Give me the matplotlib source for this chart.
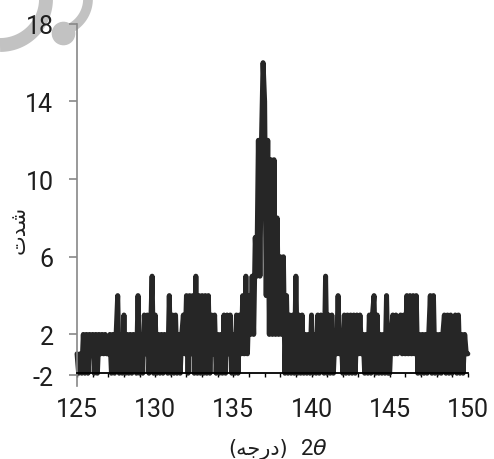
import numpy as np
import matplotlib
matplotlib.use('Agg')
import matplotlib.pyplot as plt

# scan: 2theta from 125 to 150 deg, step 0.1 deg
start_angle = 125.0
step_angle = 0.1
intensity = [
    1, 0, 1, 0, 2, 0, 2, 0, 2, 1,      # 125
    2, 0, 2, 0, 2, 1, 2, 1, 2, 1,      # 126
    1, 2, 0, 2, 0, 2, 4, 0, 2, 0,      # 127
    3, 0, 2, 0, 2, 0, 2, 1, 0, 4,      # 128
    0, 2, 0, 3, 1, 3, 0, 2, 5, 0,      # 129
    3, 0, 2, 0, 2, 0, 2, 1, 0, 4,      # 130
    0, 3, 0, 3, 0, 2, 0, 2, 3, 1,      # 131
    4, 0, 4, 1, 4, 0, 5, 0, 4, 0,      # 132
    4, 0, 4, 0, 4, 0, 3, 1, 3, 0,      # 133
    2, 0, 2, 0, 3, 0, 3, 1, 3, 0,      # 134
    2, 0, 3, 0, 3, 1, 4, 1, 5, 1,      # 135
    4, 2, 5, 2, 7, 5, 12, 5, 12, 16,   # 136
    14, 4, 12, 2, 11, 2, 11, 2, 8, 2,  # 137
    6, 2, 6, 0, 4, 0, 3, 0, 3, 0,      # 138
    5, 0, 3, 0, 3, 0, 2, 0, 2, 0,      # 139
    3, 0, 2, 0, 3, 0, 3, 2, 0, 5,      # 140
    0, 3, 0, 3, 0, 2, 1, 4, 1, 2,      # 141
    0, 3, 0, 3, 0, 3, 0, 3, 0, 3,      # 142
    1, 3, 1, 2, 0, 2, 0, 3, 0, 3,      # 143
    4, 0, 3, 0, 2, 0, 2, 0, 4, 0,      # 144
    0, 2, 3, 1, 3, 1, 2, 3, 1, 3,      # 145
    1, 4, 1, 4, 1, 4, 1, 4, 0, 2,      # 146
    0, 2, 0, 2, 0, 2, 4, 0, 4, 0,      # 147
    2, 0, 2, 0, 2, 3, 0, 3, 0, 3,      # 148
    0, 2, 3, 0, 3, 0, 2, 0, 2, 1,      # 149
    1,                                 # 150
]
two_theta = start_angle + step_angle * np.arange(len(intensity))

x_ticks = [125, 130, 135, 140, 145, 150]
y_tick_pos = [-0.1, 2, 6, 10, 14, 18]
y_tick_labels = ['-2', '2', '6', '10', '14', '18']

fig = plt.figure(figsize=(4.94, 4.6), dpi=100)

# faint watermark strokes in the top-left corner (pixel coords, y down)
bg = fig.add_axes([0, 0, 1, 1], zorder=-1)
bg.set_xlim(0, 494)
bg.set_ylim(460, 0)
bg.axis('off')
t = np.radians(np.linspace(0, 90, 40))
bg.plot(46 * np.cos(t), 46 * np.sin(t), color='#c2c2c2', lw=10,
        solid_capstyle='butt')
t = np.radians(np.linspace(0, 85, 40))
bg.plot(55 + 33 * np.cos(t), 33 * np.sin(t), color='#c2c2c2', lw=7,
        solid_capstyle='round')
bg.plot([63], [34], 'o', ms=16, color='#c2c2c2')

ax = fig.add_axes([0.156, 0.159, 0.791, 0.787])
ax.patch.set_alpha(0)
ax.plot(two_theta, intensity, color='#262626', lw=3.6,
        solid_joinstyle='round', solid_capstyle='round', clip_on=False)

ax.set_xlim(125, 150)
ax.set_ylim(-0.65, 18)

ax.spines['top'].set_visible(False)
ax.spines['right'].set_visible(False)
ax.spines['left'].set_color('#888888')
ax.spines['left'].set_linewidth(1.2)
ax.spines['bottom'].set_position(('data', 0))
ax.spines['bottom'].set_color('black')
ax.spines['bottom'].set_linewidth(1.3)

ax.set_xticks(x_ticks)
ax.set_xticks(np.arange(125, 151, 1), minor=True)
ax.set_xticklabels([str(t) for t in x_ticks])
ax.tick_params(axis='x', which='both', direction='out', length=3, width=1,
               color='black', pad=14)
ax.tick_params(axis='x', which='major', labelsize=18, labelcolor='#1e1e1e')

ax.set_yticks(y_tick_pos)
ax.set_yticklabels(y_tick_labels)
ax.tick_params(axis='y', direction='out', length=6, width=1.2, color='#888888',
               pad=11, labelsize=18, labelcolor='#1e1e1e')
for lab in ax.get_xticklabels() + ax.get_yticklabels():
    lab.set_family('Roboto')

# Persian labels, written in visual order with presentation forms
fig.text(0.038, 0.5, '\ufe95\ufeaa\ufeb7', rotation=90, ha='center', va='center',
         fontsize=15, family='DejaVu Sans', color='#1e1e1e')
fig.text(0.583, 0.022, '(\ufeea\ufe9f\ufead\ufea9)', ha='right', va='center',
         fontsize=15, family='DejaVu Sans', color='#1e1e1e')
fig.text(0.607, 0.022, r'2$\theta$', ha='left', va='center',
         fontsize=16, family='Roboto', color='#1e1e1e')

fig.savefig('out.png', dpi=100)
